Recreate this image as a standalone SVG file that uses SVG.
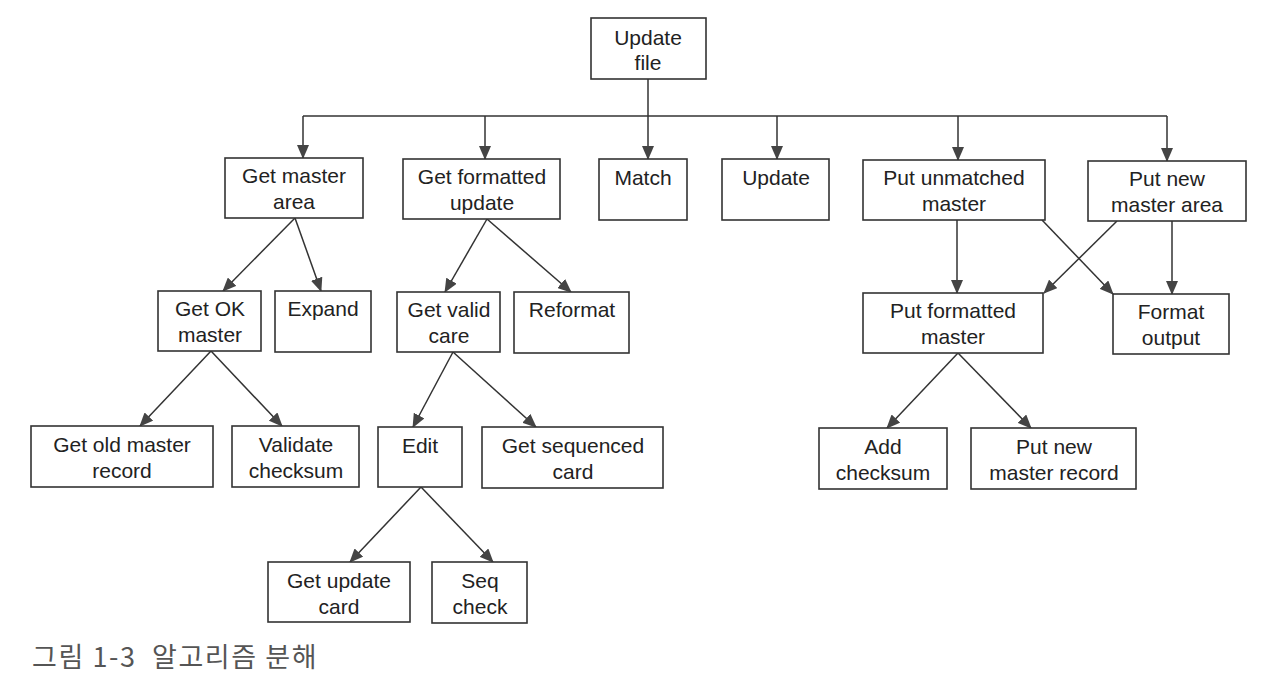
<svg xmlns="http://www.w3.org/2000/svg" width="1280" height="680" viewBox="0 0 1280 680">
<style>
  .box rect { fill: #ffffff; stroke: #333333; stroke-width: 1.6; }
  .box text { font-family: "Liberation Sans", Arial, sans-serif; font-size: 21px; fill: #222222; text-anchor: middle; }
  #connectors line, #connectors path { stroke: #333333; stroke-width: 1.5; fill: none; }
  .arr { marker-end: url(#ah); }
  .caption { font-family: "Noto Sans CJK KR", "Noto Sans", sans-serif; font-size: 27px; fill: #555555; font-weight: 400; letter-spacing: 1.6px; white-space: pre; }
</style>
<defs>
  <marker id="ah" markerUnits="userSpaceOnUse" markerWidth="14" markerHeight="12" viewBox="0 0 14 12" refX="13" refY="6" orient="auto">
    <path d="M0,0 L14,6 L0,12 Z" fill="#444444"/>
  </marker>
</defs>
<rect x="0" y="0" width="1280" height="680" fill="#ffffff"/>

<g id="connectors">
  <line x1="648" y1="79" x2="648" y2="159" class="arr"/>
  <line x1="303" y1="116" x2="1167" y2="116"/>
  <line x1="303" y1="116" x2="303" y2="158" class="arr"/>
  <line x1="485" y1="116" x2="485" y2="159" class="arr"/>
  <line x1="777" y1="116" x2="777" y2="159" class="arr"/>
  <line x1="958" y1="116" x2="958" y2="160" class="arr"/>
  <line x1="1167" y1="116" x2="1167" y2="161" class="arr"/>

  <line x1="295" y1="218" x2="223" y2="291" class="arr"/>
  <line x1="295" y1="218" x2="321" y2="291" class="arr"/>
  <line x1="487" y1="219" x2="445" y2="292" class="arr"/>
  <line x1="487" y1="219" x2="571" y2="292" class="arr"/>

  <line x1="211" y1="351" x2="140" y2="426" class="arr"/>
  <line x1="211" y1="351" x2="282" y2="426" class="arr"/>
  <line x1="453" y1="352" x2="413" y2="427" class="arr"/>
  <line x1="453" y1="352" x2="536" y2="427" class="arr"/>

  <line x1="421" y1="487" x2="350" y2="562" class="arr"/>
  <line x1="421" y1="487" x2="493" y2="562" class="arr"/>

  <line x1="957" y1="220" x2="957" y2="293" class="arr"/>
  <line x1="1042" y1="220" x2="1113" y2="294" class="arr"/>
  <line x1="1117" y1="221" x2="1044" y2="293" class="arr"/>
  <line x1="1172" y1="221" x2="1172" y2="294" class="arr"/>

  <line x1="958" y1="353" x2="887" y2="428" class="arr"/>
  <line x1="958" y1="353" x2="1031" y2="428" class="arr"/>
</g>

<g id="n-update-file" class="box"><rect x="591" y="18" width="115" height="61"/><text x="648" y="45">Update</text><text x="648" y="70">file</text></g>
<g id="n-get-master-area" class="box"><rect x="225" y="158" width="138" height="60"/><text x="294" y="183">Get master</text><text x="294" y="209">area</text></g>
<g id="n-get-formatted-update" class="box"><rect x="403" y="159" width="157" height="60"/><text x="482" y="184">Get formatted</text><text x="482" y="210">update</text></g>
<g id="n-match" class="box"><rect x="599" y="159" width="88" height="61"/><text x="643" y="185">Match</text></g>
<g id="n-update" class="box"><rect x="722" y="159" width="107" height="61"/><text x="776" y="185">Update</text></g>
<g id="n-put-unmatched-master" class="box"><rect x="863" y="160" width="182" height="60"/><text x="954" y="185">Put unmatched</text><text x="954" y="211">master</text></g>
<g id="n-put-new-master-area" class="box"><rect x="1088" y="161" width="158" height="60"/><text x="1167" y="186">Put new</text><text x="1167" y="212">master area</text></g>

<g id="n-get-ok-master" class="box"><rect x="158" y="291" width="103" height="60"/><text x="210" y="316">Get OK</text><text x="210" y="342">master</text></g>
<g id="n-expand" class="box"><rect x="275" y="291" width="96" height="61"/><text x="323" y="316">Expand</text></g>
<g id="n-get-valid-care" class="box"><rect x="397" y="292" width="103" height="60"/><text x="449" y="317">Get valid</text><text x="449" y="343">care</text></g>
<g id="n-reformat" class="box"><rect x="514" y="292" width="115" height="61"/><text x="572" y="317">Reformat</text></g>
<g id="n-put-formatted-master" class="box"><rect x="863" y="293" width="180" height="60"/><text x="953" y="318">Put formatted</text><text x="953" y="344">master</text></g>
<g id="n-format-output" class="box"><rect x="1113" y="294" width="116" height="60"/><text x="1171" y="319">Format</text><text x="1171" y="345">output</text></g>

<g id="n-get-old-master-record" class="box"><rect x="31" y="426" width="182" height="61"/><text x="122" y="452">Get old master</text><text x="122" y="478">record</text></g>
<g id="n-validate-checksum" class="box"><rect x="232" y="426" width="127" height="61"/><text x="296" y="452">Validate</text><text x="296" y="478">checksum</text></g>
<g id="n-edit" class="box"><rect x="378" y="427" width="84" height="60"/><text x="420" y="453">Edit</text></g>
<g id="n-get-sequenced-card" class="box"><rect x="482" y="427" width="181" height="61"/><text x="573" y="453">Get sequenced</text><text x="573" y="479">card</text></g>
<g id="n-add-checksum" class="box"><rect x="819" y="428" width="128" height="61"/><text x="883" y="454">Add</text><text x="883" y="480">checksum</text></g>
<g id="n-put-new-master-record" class="box"><rect x="971" y="428" width="165" height="61"/><text x="1054" y="454">Put new</text><text x="1054" y="480">master record</text></g>

<g id="n-get-update-card" class="box"><rect x="268" y="562" width="142" height="60"/><text x="339" y="588">Get update</text><text x="339" y="614">card</text></g>
<g id="n-seq-check" class="box"><rect x="432" y="562" width="95" height="61"/><text x="480" y="588">Seq</text><text x="480" y="614">check</text></g>

<text class="caption" x="32" y="667">그림 1-3  알고리즘 분해</text>
</svg>
